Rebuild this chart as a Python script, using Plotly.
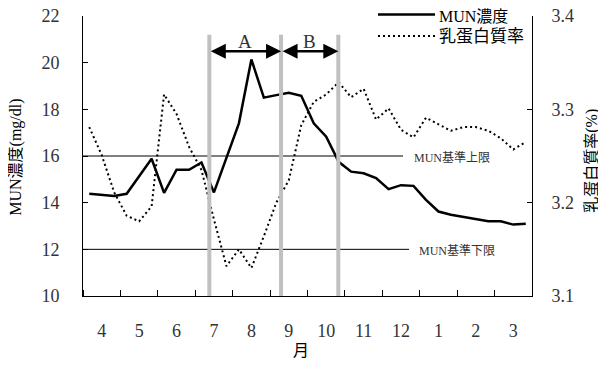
import plotly.graph_objects as go

months = ["4", "5", "6", "7", "8", "9", "10", "11", "12", "1", "2", "3"]
# dekad (10-day) values, 3 per month, April..March
mun = [14.38, 14.34, 14.29, 14.38, 15.11, 15.88, 14.42, 15.41, 15.41, 15.72,
       14.44, 15.91, 17.40, 20.14, 18.50, 18.61, 18.71, 18.58, 17.40, 16.83,
       15.75, 15.33, 15.26, 15.05, 14.58, 14.75, 14.72, 14.12, 13.62, 13.48,
       13.38, 13.28, 13.20, 13.20, 13.06, 13.10]
protein = [3.281, 3.251, 3.211, 3.186, 3.180, 3.196, 3.316, 3.295, 3.260, 3.235,
           3.182, 3.132, 3.150, 3.130, 3.164, 3.200, 3.224, 3.283, 3.308, 3.316,
           3.329, 3.313, 3.322, 3.289, 3.301, 3.278, 3.270, 3.291, 3.284, 3.277,
           3.281, 3.281, 3.277, 3.269, 3.257, 3.265]
upper_limit = 16
lower_limit = 12
period_bounds = [9.63, 15.38, 19.97]
period_labels = ["A", "B"]

x = list(range(len(mun)))
FONT = "Liberation Serif, Noto Sans CJK JP, serif"
OFF = 8  # page body margin

fig = go.Figure()
fig.add_trace(go.Scatter(x=x, y=mun, mode="lines", name="MUN濃度",
                         line=dict(color="black", width=2.5), yaxis="y"))
fig.add_trace(go.Scatter(x=x, y=protein, mode="lines", name="乳蛋白質率",
                         line=dict(color="black", width=2, dash="2px,3px"), yaxis="y2"))

shapes = []
# limit lines
shapes.append(dict(type="line", xref="x", yref="y", x0=-0.5, x1=25.16,
                   y0=upper_limit, y1=upper_limit, line=dict(color="black", width=1)))
shapes.append(dict(type="line", xref="x", yref="y", x0=-0.5, x1=25.64,
                   y0=lower_limit, y1=lower_limit, line=dict(color="black", width=1)))
# gray period lines
for b in period_bounds:
    shapes.append(dict(type="line", xref="x", yref="y", x0=b, x1=b, y0=10, y1=21.2,
                       line=dict(color="#c0c0c0", width=4)))

# custom legend (page pixel -> paper coords)
def px2paper_x(px):
    return (px - 83) / 449.0

def px2paper_y(py):
    return (296.5 - py) / 280.5

shapes.append(dict(type="line", xref="paper", yref="paper",
                   x0=px2paper_x(378), x1=px2paper_x(435),
                   y0=px2paper_y(14.5), y1=px2paper_y(14.5),
                   line=dict(color="black", width=2.5)))
shapes.append(dict(type="line", xref="paper", yref="paper",
                   x0=px2paper_x(378), x1=px2paper_x(435),
                   y0=px2paper_y(36), y1=px2paper_y(36),
                   line=dict(color="black", width=2, dash="2px,3px")))

annotations = []
annotations.append(dict(xref="paper", yref="paper", x=px2paper_x(437), y=px2paper_y(17),
                        text="MUN濃度", showarrow=False, xanchor="left", yanchor="middle",
                        font=dict(family=FONT, size=16, color="black")))
annotations.append(dict(xref="paper", yref="paper", x=px2paper_x(437), y=px2paper_y(37),
                        text="乳蛋白質率", showarrow=False, xanchor="left", yanchor="middle",
                        font=dict(family=FONT, size=17, color="black")))
# limit labels
annotations.append(dict(xref="x", yref="y", x=25.9, y=upper_limit, text="MUN基準上限",
                        showarrow=False, xanchor="left", yanchor="middle", yshift=-1,
                        font=dict(family=FONT, size=12, color="#333333")))
annotations.append(dict(xref="x", yref="y", x=26.3, y=lower_limit, text="MUN基準下限",
                        showarrow=False, xanchor="left", yanchor="middle", yshift=-1,
                        font=dict(family=FONT, size=12, color="#333333")))
# period arrows
for i, lab in enumerate(period_labels):
    x0, x1 = period_bounds[i], period_bounds[i + 1]
    annotations.append(dict(xref="x", yref="y", axref="x", ayref="y",
                            x=x1, y=20.49, ax=x0, ay=20.49, text="",
                            showarrow=True, arrowhead=2, startarrowhead=2,
                            arrowside="end+start", arrowsize=1.2, startarrowsize=1.2,
                            arrowwidth=2.5, arrowcolor="black", standoff=0, startstandoff=0))
    annotations.append(dict(xref="x", yref="y", x=(x0 + x1) / 2, y=20.92, text=lab,
                            showarrow=False, xanchor="center", yanchor="middle",
                            font=dict(family=FONT, size=19, color="#333333")))
# axis titles
annotations.append(dict(xref="paper", yref="paper", x=px2paper_x(16), y=px2paper_y(158),
                        text="MUN濃度(mg/dl)", textangle=-90, showarrow=False,
                        xanchor="center", yanchor="middle",
                        font=dict(family=FONT, size=16, color="black")))
annotations.append(dict(xref="paper", yref="paper", x=px2paper_x(592), y=px2paper_y(161),
                        text="乳蛋白質率(%)", textangle=-90, showarrow=False,
                        xanchor="center", yanchor="middle",
                        font=dict(family=FONT, size=16, color="black")))
annotations.append(dict(xref="paper", yref="paper", x=px2paper_x(301), y=px2paper_y(351),
                        text="月", showarrow=False, xanchor="center", yanchor="middle",
                        font=dict(family=FONT, size=16, color="black")))

fig.update_layout(
    width=606 - OFF, height=365 - OFF,
    margin=dict(l=83 - OFF, r=74, t=16 - OFF, b=68.5, autoexpand=False),
    paper_bgcolor="white", plot_bgcolor="white",
    showlegend=False,
    font=dict(family=FONT, size=18, color="black"),
    xaxis=dict(range=[-0.5, 35.5], tickmode="array", automargin=False,
               tickvals=[1 + 3 * k for k in range(12)], ticktext=months,
               ticks="", showline=True, linecolor="black", linewidth=1,
               showgrid=False, zeroline=False, ticklabelstandoff=18,
               ticklabeloverflow="allow",
               tickfont=dict(family=FONT, size=18, color="#333333"),
               minor=dict(tickmode="array", tickvals=[-0.5 + 3 * k for k in range(13)],
                          ticks="inside", ticklen=6, tickcolor="black", tickwidth=1,
                          showgrid=False)),
    yaxis=dict(range=[10, 22], dtick=2, tick0=10, ticks="inside", ticklen=5,
               tickcolor="black", showline=True, linecolor="black", linewidth=1,
               showgrid=False, zeroline=False, ticklabelstandoff=19, automargin=False,
               ticklabeloverflow="allow",
               tickfont=dict(family=FONT, size=18, color="#333333")),
    yaxis2=dict(range=[3.1, 3.4], dtick=0.1, tick0=3.1, tickformat=".1f",
                overlaying="y", side="right", ticks="inside", ticklen=5,
                tickcolor="black", showline=True, linecolor="black", linewidth=1,
                showgrid=False, zeroline=False, ticklabelstandoff=15, automargin=False,
                ticklabeloverflow="allow",
                tickfont=dict(family=FONT, size=18, color="#333333")),
    shapes=shapes, annotations=annotations,
)

fig.write_html("out.html")
